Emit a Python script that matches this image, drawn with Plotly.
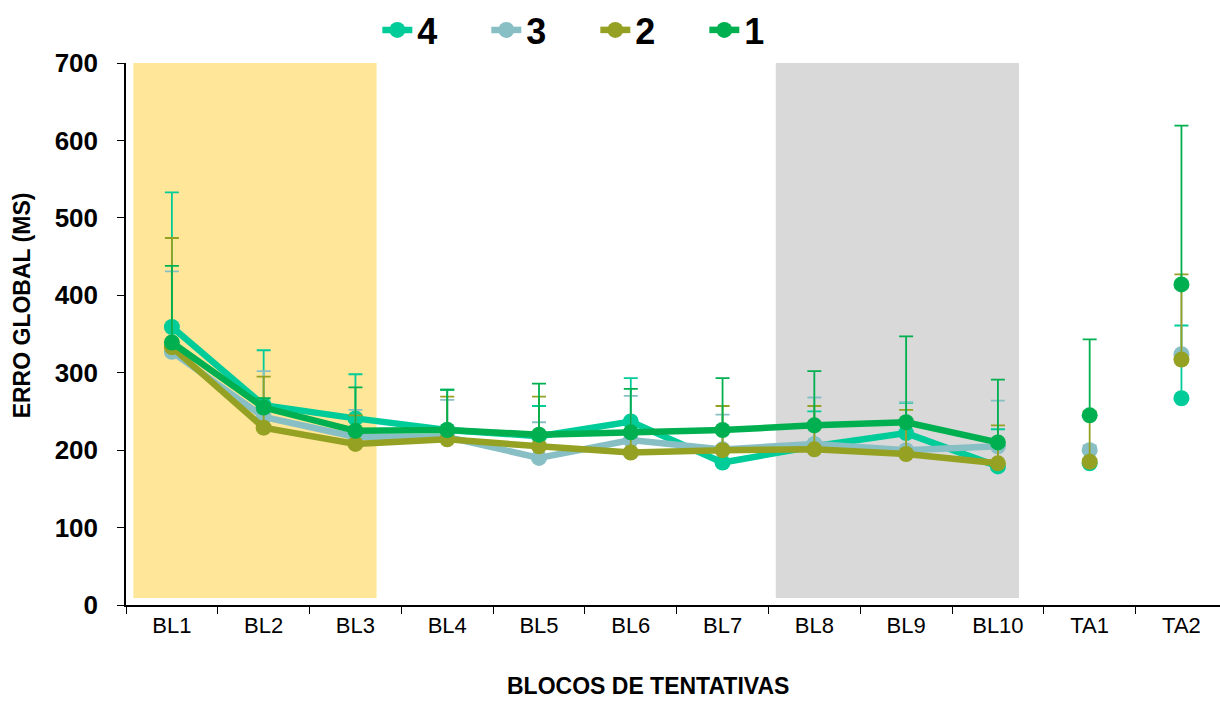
import plotly.graph_objects as go

# ---------------- data ----------------
categories = ["BL1", "BL2", "BL3", "BL4", "BL5", "BL6", "BL7", "BL8", "BL9", "BL10", "TA1", "TA2"]
line_part = categories[:10]   # blocks joined by lines
point_part = categories[10:]  # test blocks shown as separate points

series_names = ["4", "3", "2", "1"]

mean_4 = [359, 258, 241, 226, 218, 237, 184, 205, 222, 179, 183, 267]
mean_3 = [327, 243, 217, 217, 190, 213, 201, 208, 200, 205, 200, 324]
mean_2 = [333, 229, 208, 214, 205, 197, 200, 201, 195, 183, 185, 317]
mean_1 = [339, 255, 225, 226, 220, 223, 226, 232, 236, 210, 245, 414]

# upper error (SD) values
err_4 = [174, 71, 57, 52, 39, 56, 46, 45, 39, 48, 6, 94]
err_3 = [104, 59, 35, 48, 46, 57, 45, 60, 62, 59, 6, 90]
err_2 = [141, 66, 37, 55, 64, 28, 57, 56, 57, 49, 65, 110]
err_1 = [99, 12, 56, 52, 66, 56, 67, 70, 111, 81, 98, 205]

means = [mean_4, mean_3, mean_2, mean_1]
errors = [err_4, err_3, err_2, err_1]

# shaded phases: (first block, last block)
phase_spans = [("BL1", "BL3"), ("BL8", "BL10")]

# ---------------- styles ----------------
colors = ["#00CC99", "#88BFC5", "#95A122", "#00B050"]
phase_colors = ["#FFE699", "#D9D9D9"]
FONT = "Liberation Sans, Arial, sans-serif"

fig = go.Figure()

n_line = len(line_part)
for name, m, e, c in zip(series_names, means, errors, colors):
    # joined part
    fig.add_trace(go.Scatter(
        x=line_part, y=m[:n_line], name=name, legendgroup=name,
        mode="lines+markers",
        line=dict(color=c, width=6.5),
        marker=dict(color=c, size=16),
        error_y=dict(type="data", symmetric=False, array=e[:n_line],
                     arrayminus=[0] * n_line, color=c, thickness=1.8, width=7),
    ))
    # separate points
    fig.add_trace(go.Scatter(
        x=point_part, y=m[n_line:], name=name, legendgroup=name, showlegend=False,
        mode="markers",
        marker=dict(color=c, size=16),
        error_y=dict(type="data", symmetric=False, array=e[n_line:],
                     arrayminus=[0] * len(point_part), color=c, thickness=1.8, width=7),
    ))

for (a, b), pc in zip(phase_spans, phase_colors):
    fig.add_shape(type="rect", layer="below", xref="x", yref="y",
                  x0=categories.index(a) - 0.42, x1=categories.index(b) + 0.23,
                  y0=9, y1=700, fillcolor=pc, line=dict(width=0))

fig.update_layout(
    width=1220, height=702,
    margin=dict(l=126, r=0, t=63, b=97),
    paper_bgcolor="white", plot_bgcolor="white",
    font=dict(family=FONT, color="black"),
    showlegend=True,
    legend=dict(orientation="h", x=0.429, xanchor="center", y=1.061, yanchor="middle",
                font=dict(size=36, family=FONT, weight="bold"),
                entrywidth=64, entrywidthmode="pixels", traceorder="normal",
                bgcolor="rgba(0,0,0,0)"),
    xaxis=dict(type="category", categoryorder="array", categoryarray=categories,
               range=[-0.5, 11.42], tickson="boundaries", ticks="outside", ticklen=7,
               tickcolor="black", tickwidth=1.3, showline=True, linecolor="black", linewidth=1.5,
               showgrid=False, zeroline=False,
               tickfont=dict(size=22, family=FONT)),
    yaxis=dict(range=[0, 700], tickvals=[0, 100, 200, 300, 400, 500, 600, 700],
               ticks="outside", ticklen=7, tickcolor="black", tickwidth=1.3,
               showline=True, linecolor="black", linewidth=1.5,
               showgrid=False, zeroline=False, ticklabelstandoff=14,
               tickfont=dict(size=26, family=FONT, weight="bold")),
    annotations=[
        dict(text="BLOCOS DE TENTATIVAS", xref="paper", yref="paper",
             x=0.477, y=-0.178, xanchor="center", yanchor="bottom", showarrow=False,
             font=dict(size=23, family=FONT, weight="bold")),
        dict(text="ERRO GLOBAL (MS)", xref="paper", yref="paper", textangle=-90,
             x=-0.095, y=0.553, xanchor="center", yanchor="middle", showarrow=False,
             font=dict(size=23, family=FONT, weight="bold")),
    ],
)

fig.write_html("out.html")
